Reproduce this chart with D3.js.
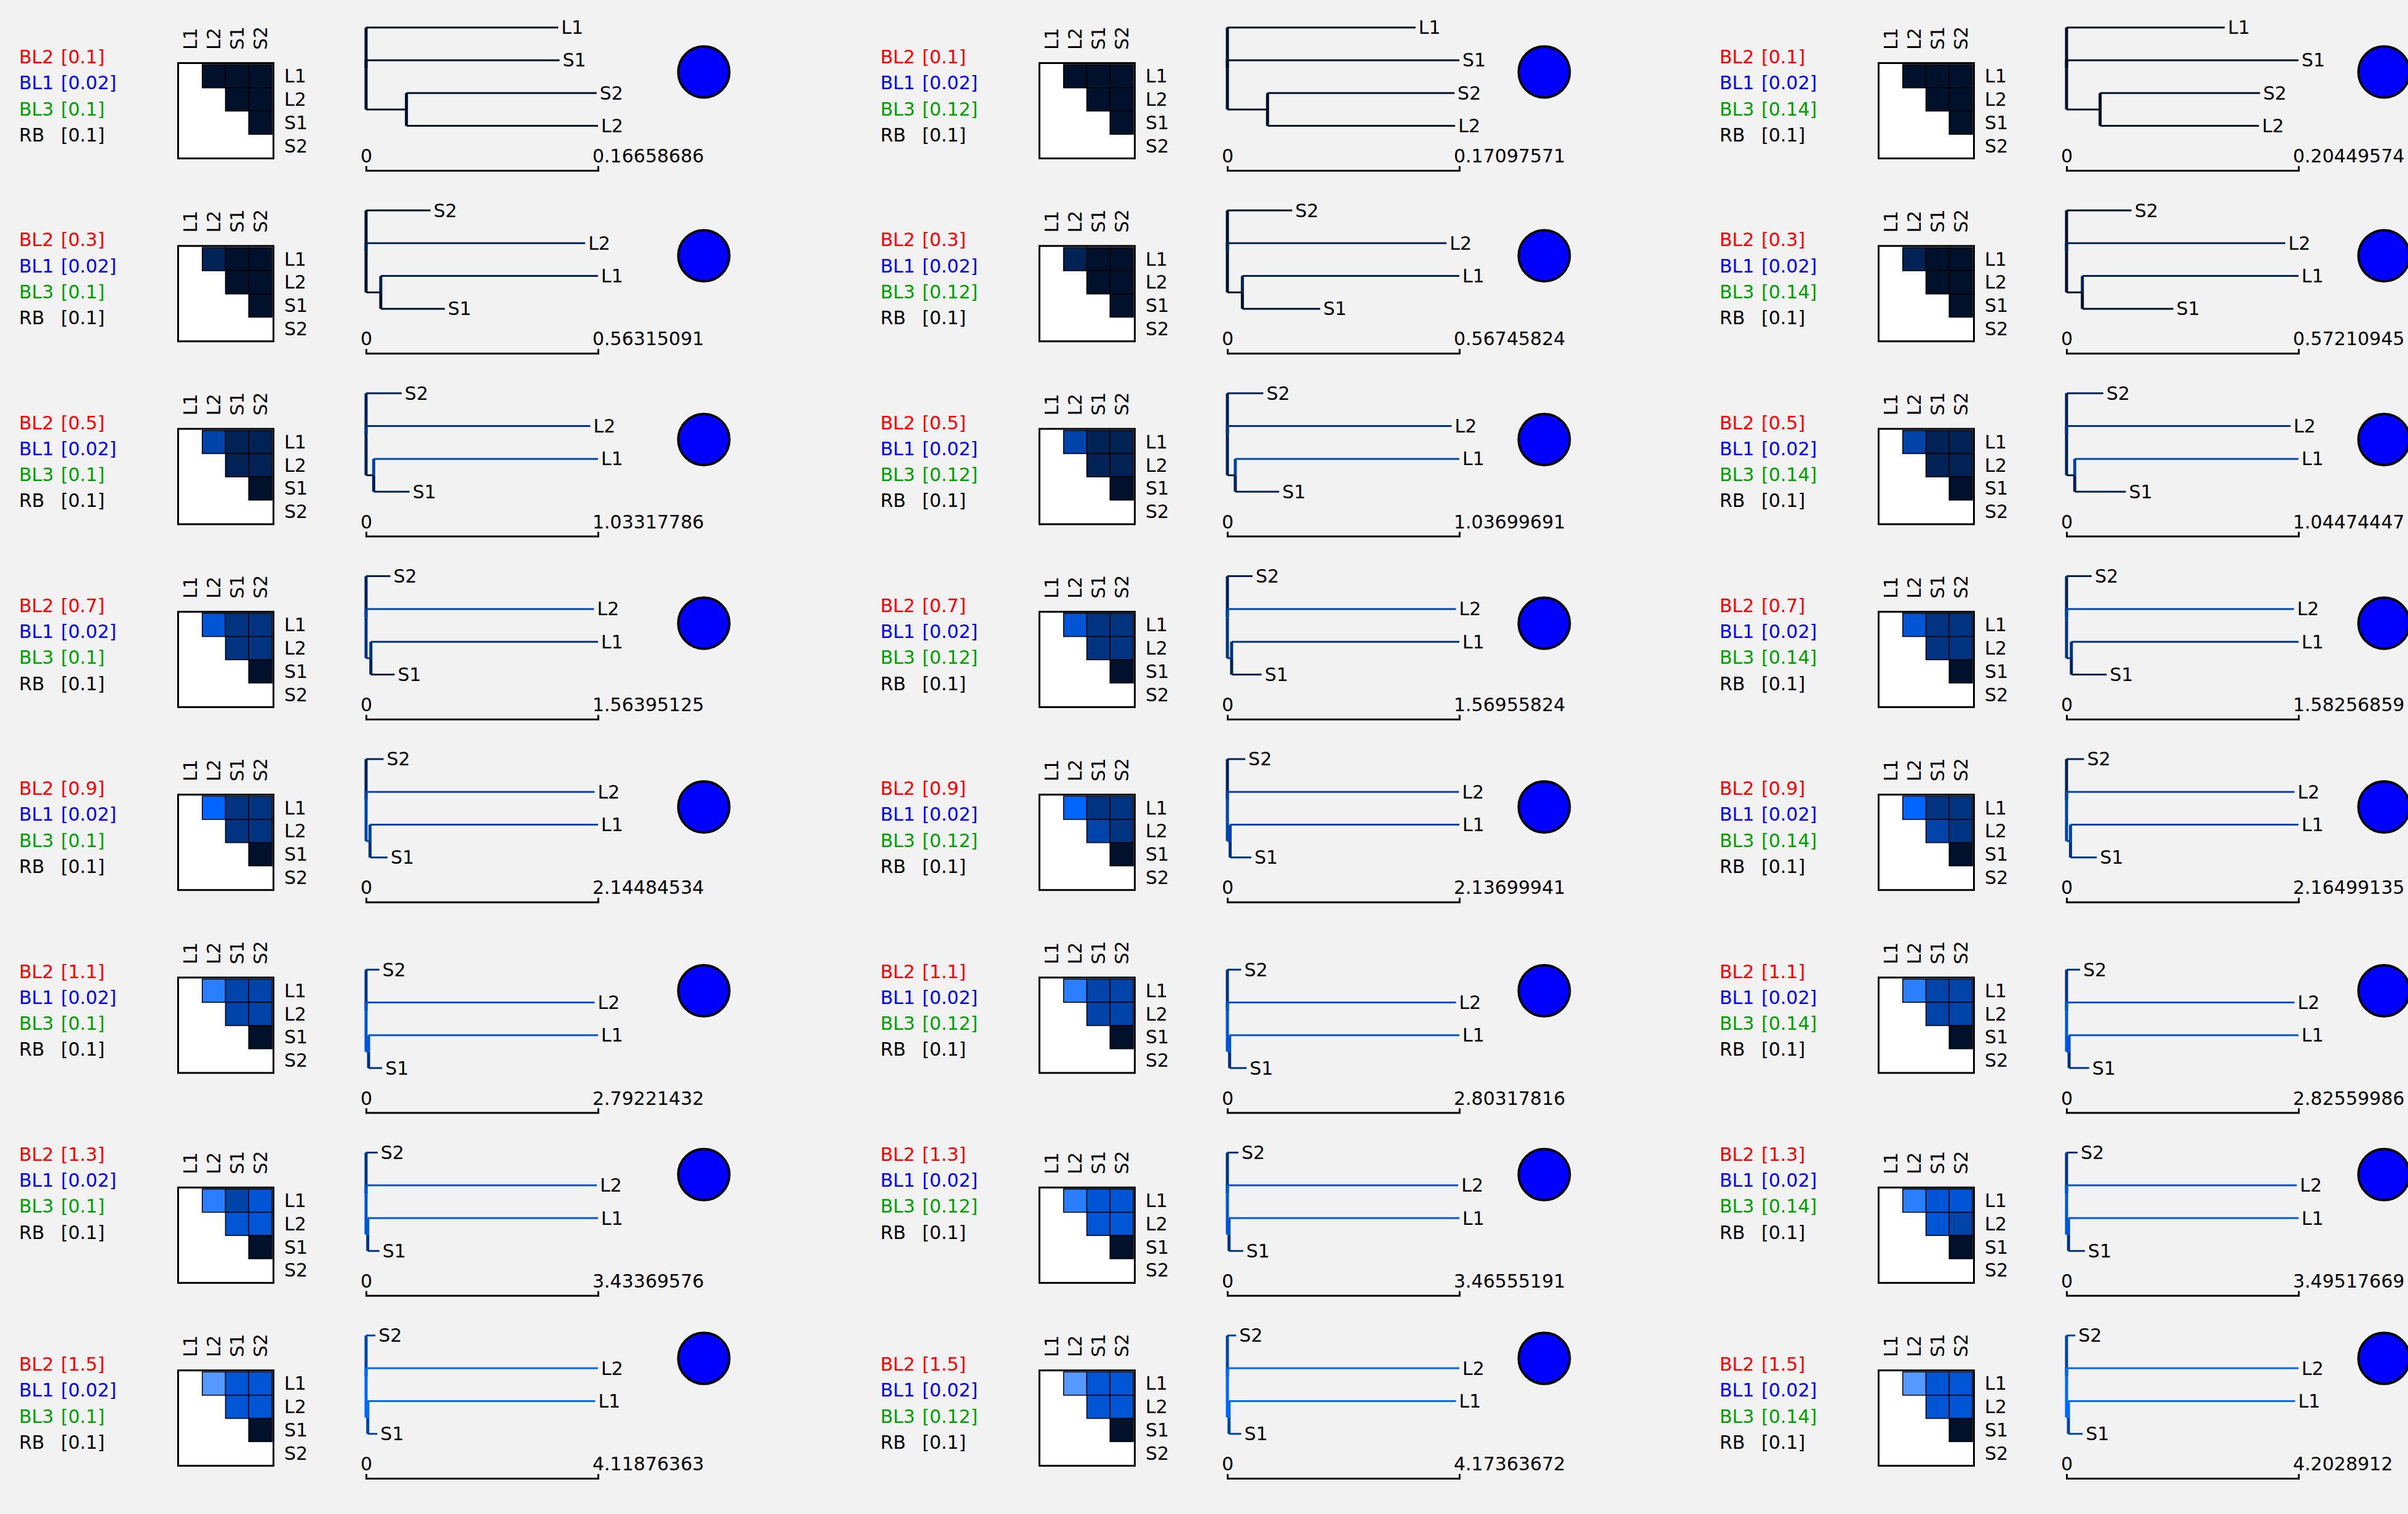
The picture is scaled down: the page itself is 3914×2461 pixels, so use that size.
<!DOCTYPE html>
<html>
<head>
<meta charset="utf-8">
<script src="https://cdn.jsdelivr.net/npm/d3@7"></script>
<style>
  body { margin: 0; background: #f2f2f2; }
  svg { display: block; }
</style>
</head>
<body>
<div id="chart"></div>
<script>
const taxa = ["L1", "L2", "S1", "S2"];
const bl2Values = [0.1, 0.3, 0.5, 0.7, 0.9, 1.1, 1.3, 1.5];
const bl1Values = [0.02, 0.02, 0.02];
const bl3Values = [0.1, 0.12, 0.14];
const rbValues = [0.1, 0.1, 0.1];

// scale bar maximum per row / column
const scaleMax = [
    [0.16658686, 0.17097571, 0.20449574],
    [0.56315091, 0.56745824, 0.57210945],
    [1.03317786, 1.03699691, 1.04474447],
    [1.56395125, 1.56955824, 1.58256859],
    [2.14484534, 2.13699941, 2.16499135],
    [2.79221432, 2.80317816, 2.82559986],
    [3.43369576, 3.46555191, 3.49517669],
    [4.11876363, 4.17363672, 4.2028912]
];

// trees (branch lengths), N = internal node
const trees = [
    ["(L1:0.138,S1:0.139,(S2:0.1366,L2:0.1376)N:0.029);",
     "(L1:0.1387,S1:0.171,(S2:0.1378,L2:0.1383)N:0.0296);",
     "(L1:0.1395,S1:0.2045,(S2:0.141,L2:0.14)N:0.0296);"],
    ["(S2:0.1565,L2:0.532,(L1:0.5275,S1:0.1556)N:0.0357);",
     "(S2:0.1585,L2:0.5363,(L1:0.5308,S1:0.1903)N:0.0367);",
     "(S2:0.1603,L2:0.5394,(L1:0.5331,S1:0.2244)N:0.039);"],
    ["(S2:0.1586,L2:0.999,(L1:0.9992,S1:0.1598)N:0.034);",
     "(S2:0.1606,L2:1.0028,(L1:1.0016,S1:0.196)N:0.0354);",
     "(S2:0.1654,L2:1.009,(L1:1.0078,S1:0.2303)N:0.0369);"],
    ["(S2:0.164,L2:1.537,(L1:1.5316,S1:0.16)N:0.0324);",
     "(S2:0.1703,L2:1.5466,(L1:1.5409,S1:0.2029)N:0.0287);",
     "(S2:0.1716,L2:1.5517,(L1:1.5498,S1:0.2409)N:0.0328);"],
    ["(S2:0.162,L2:2.1135,(L1:2.1082,S1:0.162)N:0.0366);",
     "(S2:0.165,L2:2.1336,(L1:2.1115,S1:0.195)N:0.0255);",
     "(S2:0.1635,L2:2.128,(L1:2.128,S1:0.2452)N:0.037);"],
    ["(S2:0.1598,L2:2.751,(L1:2.7616,S1:0.1632)N:0.0306);",
     "(S2:0.1675,L2:2.762,(L1:2.7762,S1:0.2055)N:0.027);",
     "(S2:0.165,L2:2.777,(L1:2.7946,S1:0.2443)N:0.031);"],
    ["(S2:0.1715,L2:3.417,(L1:3.4087,S1:0.172)N:0.025);",
     "(S2:0.165,L2:3.449,(L1:3.4406,S1:0.2117)N:0.025);",
     "(S2:0.166,L2:3.4697,(L1:3.4652,S1:0.2467)N:0.03);"],
    ["(S2:0.1655,L2:4.1188,(L1:4.039,S1:0.1707)N:0.03);",
     "(S2:0.158,L2:4.1736,(L1:4.083,S1:0.2194)N:0.03);",
     "(S2:0.1587,L2:4.2029,(L1:4.1075,S1:0.2578)N:0.034);"]
];

// shade level of each branch, order S2, L2, N, L1, S1
const branchNames = ["S2", "L2", "N", "L1", "S1"];
const branchShade = [
    [0, 0, 0, 0, 0],
    [0, 1, 0, 1, 0],
    [1, 2, 1, 3, 1],
    [1, 3, 2, 2, 1],
    [1, 3, 3, 3, 2],
    [2, 4, 4, 4, 2],
    [2, 4, 4, 4, 2],
    [3, 5, 5, 5, 3]
];

// shade level of pair cells: L1L2, L1S1, L1S2, L2S1, L2S2, S1S2
const pairs = [["L1","L2"],["L1","S1"],["L1","S2"],["L2","S1"],["L2","S2"],["S1","S2"]];
const pairShade = [
    [[0,0,0,0,0,0], [0,0,0,0,0,0], [0,0,0,0,0,0]],
    [[1,0,0,0,0,0], [1,0,0,0,0,0], [1,0,0,0,0,0]],
    [[3,1,1,1,1,0], [3,1,1,1,1,0], [3,1,1,1,1,0]],
    [[4,2,2,2,2,0], [4,2,2,2,2,0], [4,2,2,2,2,0]],
    [[5,2,2,2,2,0], [5,2,2,3,2,0], [5,2,2,3,2,0]],
    [[6,3,3,3,3,0], [6,3,3,3,3,0], [6,3,3,3,3,0]],
    [[6,3,4,4,4,0], [6,4,4,4,4,0], [6,4,4,4,3,0]],
    [[7,4,4,4,4,0], [7,4,4,4,4,0], [7,4,4,4,4,0]]
];

const palette = ["#00112b", "#002255", "#003380", "#0044aa", "#0055d4", "#0066ff", "#2a7fff", "#5599ff"];
const shade = d3.scaleOrdinal().domain(d3.range(palette.length)).range(palette);

const width = 3914, height = 2461;
const font = "DejaVu Sans";
const fs = 30;
const pitch = 297.3;
const colX = [0, 1400, 2764];
const circleX = [1144, 2510, 3875];
const legendShift = [0, 0, 0, 0, 0, 0, 0, 44];
const heatShift = [0, 0, 0, 0, 0, 0, 44, 44];
const treeShift = [0, 0, 0, 0, 0, 45, 45, 45];

function parseNewick(s) {
    let i = 0;
    function node() {
        const n = {children: []};
        if (s[i] === "(") {
            i++;
            n.children.push(node());
            while (s[i] === ",") { i++; n.children.push(node()); }
            i++;
        }
        let name = "";
        while (i < s.length && !",():;".includes(s[i])) name += s[i++];
        n.name = name;
        n.length = 0;
        if (s[i] === ":") {
            i++;
            let len = "";
            while (i < s.length && !",();".includes(s[i])) len += s[i++];
            n.length = +len;
        }
        return n;
    }
    return node();
}

const svg = d3.select("#chart")
    .append("svg")
    .attr("width", width)
    .attr("height", height)
    .attr("font-family", font)
    .attr("font-size", fs);

svg.append("rect")
    .attr("width", width)
    .attr("height", height)
    .attr("fill", "#f2f2f2");

const band = d3.scaleBand().domain(taxa).range([0, 151]);

bl2Values.forEach((bl2, r) => {
    bl3Values.forEach((bl3, c) => {
        const g = svg.append("g").attr("transform", `translate(${colX[c]},0)`);

        // legend
        const legend = [
            ["BL2", bl2, "#ff0000"],
            ["BL1", bl1Values[c], "#0000ff"],
            ["BL3", bl3, "#00a000"],
            ["RB", rbValues[c], "#000000"]
        ];
        const ly = 103 + r * pitch + legendShift[r];
        const lg = g.append("g").attr("transform", `translate(31,${ly})`);
        lg.selectAll("text.k")
            .data(legend)
            .join("text")
            .attr("class", "k")
            .attr("y", (d, i) => i * 42.3)
            .attr("fill", d => d[2])
            .text(d => d[0]);
        lg.selectAll("text.v")
            .data(legend)
            .join("text")
            .attr("class", "v")
            .attr("x", 68)
            .attr("y", (d, i) => i * 42.3)
            .attr("fill", d => d[2])
            .text(d => `[${d[1]}]`);

        // heatmap
        const hy = 101 + r * pitch + heatShift[r];
        const hm = g.append("g").attr("transform", `translate(291,${hy + 4})`);
        hm.append("rect")
            .attr("x", -1.5)
            .attr("y", -2.5)
            .attr("width", 155)
            .attr("height", 155)
            .attr("fill", "#ffffff")
            .attr("stroke", "#000")
            .attr("stroke-width", 3);
        hm.selectAll("rect.cell")
            .data(pairs.map((p, i) => ({a: p[0], b: p[1], v: pairShade[r][c][i]})))
            .join("rect")
            .attr("class", "cell")
            .attr("x", d => band(d.b))
            .attr("y", d => band(d.a))
            .attr("width", band.bandwidth())
            .attr("height", band.bandwidth())
            .attr("fill", d => shade(d.v))
            .attr("stroke", "#000")
            .attr("stroke-width", 1.5);
        hm.selectAll("text.col")
            .data(taxa)
            .join("text")
            .attr("class", "col")
            .attr("transform", d => `translate(${band(d) + band.bandwidth() / 2},-24) rotate(-90)`)
            .attr("dominant-baseline", "central")
            .text(d => d);
        hm.selectAll("text.row")
            .data(taxa)
            .join("text")
            .attr("class", "row")
            .attr("x", 171)
            .attr("y", d => band(d) + band.bandwidth() / 2)
            .attr("dominant-baseline", "central")
            .text(d => d);

        // tree
        const ty = 44.7 + r * pitch + treeShift[r];
        const tg = g.append("g").attr("transform", `translate(595,${ty})`);
        const root = d3.hierarchy(parseNewick(trees[r][c]));
        root.eachBefore(d => { d.dist = d.parent ? d.parent.dist + d.data.length : 0; });
        const x = d3.scaleLinear().domain([0, scaleMax[r][c]]).range([0, 377]);
        const y = d3.scalePoint().domain(root.leaves().map(d => d.data.name)).range([0, 3 * 53.3]);
        root.eachAfter(d => {
            d.py = d.children
                ? (d.children[0].py + d.children[d.children.length - 1].py) / 2
                : y(d.data.name);
            d.px = x(d.dist);
        });
        const color = d => shade(branchShade[r][branchNames.indexOf(d.data.name)]);
        const branches = root.descendants().filter(d => d.parent);
        tg.selectAll("line.v")
            .data(branches)
            .join("line")
            .attr("class", "v")
            .attr("x1", d => d.parent.px)
            .attr("x2", d => d.parent.px)
            .attr("y1", d => d.parent.py)
            .attr("y2", d => d.py)
            .attr("stroke", color)
            .attr("stroke-width", 5);
        tg.selectAll("line.h")
            .data(branches)
            .join("line")
            .attr("class", "h")
            .attr("x1", d => d.parent.px)
            .attr("x2", d => d.px)
            .attr("y1", d => d.py)
            .attr("y2", d => d.py)
            .attr("stroke", color)
            .attr("stroke-width", 3);
        tg.selectAll("text.leaf")
            .data(root.leaves())
            .join("text")
            .attr("class", "leaf")
            .attr("x", d => d.px + 5)
            .attr("y", d => d.py)
            .attr("dominant-baseline", "central")
            .text(d => d.data.name);

        // scale bar
        const axis = d3.axisTop(x)
            .tickValues([])
            .tickSizeOuter(7);
        const ag = tg.append("g")
            .attr("transform", "translate(0,232.3)")
            .call(axis);
        ag.select(".domain").attr("stroke-width", 3);
        ag.selectAll("text.lab")
            .data(x.domain())
            .join("text")
            .attr("class", "lab")
            .attr("x", d => x(d) - 9)
            .attr("y", -13)
            .attr("text-anchor", "start")
            .attr("fill", "#000")
            .attr("font-family", font)
            .attr("font-size", fs)
            .text(d => d === 0 ? "0" : String(d));

        // circle
        svg.append("circle")
            .attr("cx", circleX[c])
            .attr("cy", 117 + r * 298.7)
            .attr("r", 41.5)
            .attr("fill", "#0000ff")
            .attr("stroke", "#000")
            .attr("stroke-width", 4);
    });
});
</script>
</body>
</html>
